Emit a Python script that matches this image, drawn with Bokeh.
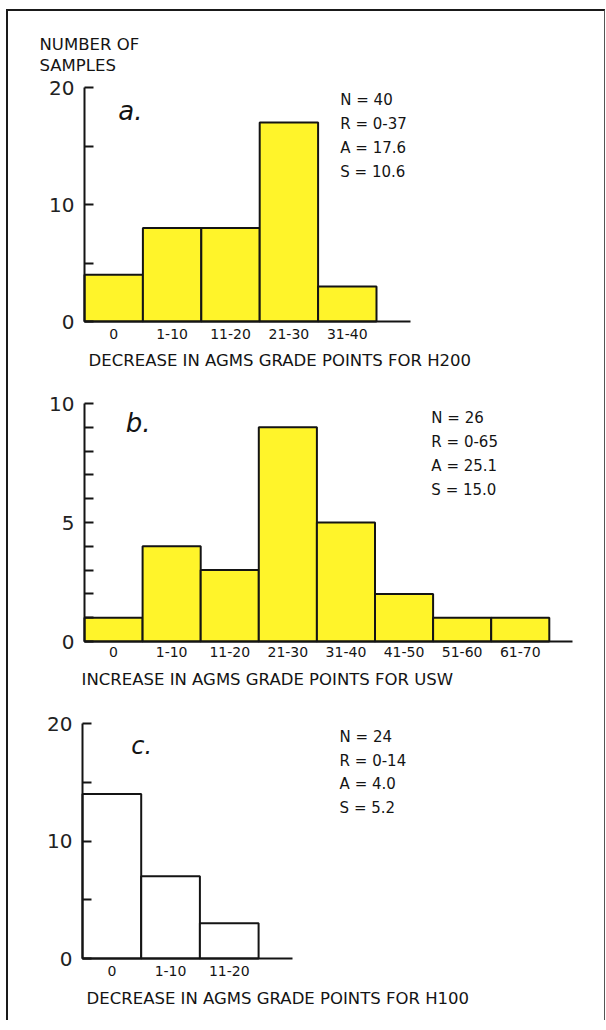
from bokeh.plotting import figure
from bokeh.models import Range1d, FixedTicker, Label
from bokeh.layouts import column
from bokeh.embed import file_html
from bokeh.resources import INLINE

# ---------------- data ----------------
cats_a = ["0", "1-10", "11-20", "21-30", "31-40"]
counts_a = [4, 8, 8, 17, 3]
stats_a = ["N = 40", "R = 0-37", "A = 17.6", "S = 10.6"]
title_a = "DECREASE IN AGMS GRADE POINTS FOR H200"

cats_b = ["0", "1-10", "11-20", "21-30", "31-40", "41-50", "51-60", "61-70"]
counts_b = [1, 4, 3, 9, 5, 2, 1, 1]
stats_b = ["N = 26", "R = 0-65", "A = 25.1", "S = 15.0"]
title_b = "INCREASE IN AGMS GRADE POINTS FOR USW"

cats_c = ["0", "1-10", "11-20"]
counts_c = [14, 7, 3]
stats_c = ["N = 24", "R = 0-14", "A = 4.0", "S = 5.2"]
title_c = "DECREASE IN AGMS GRADE POINTS FOR H100"

y_title = ["NUMBER OF", "SAMPLES"]

FONT = "DejaVu Sans"
INK = "#141414"
YELLOW = "#FFF42A"

W = 596          # canvas width of every panel
LEFT = 8         # page x of the canvases
TOP = 11         # page y of the first canvas


def panel(cats, counts, fill, canvas_top, height, axis_x, unit_x, axis_y,
          unit_y, xlen, ymax, yticks, yminor, x_standoff):
    # ranges chosen so that data (0,0) sits at page pixel (axis_x, axis_y)
    x0 = -(axis_x - LEFT) / unit_x
    x1 = x0 + W / unit_x
    y0 = -(canvas_top + height - axis_y) / unit_y
    y1 = (axis_y - canvas_top) / unit_y
    p = figure(width=W, height=height, output_backend="svg",
               toolbar_location=None, x_range=Range1d(x0, x1),
               y_range=Range1d(y0, y1), min_border=0)
    p.outline_line_color = None
    p.grid.visible = False
    p.background_fill_color = "white"
    p.border_fill_color = "white"
    lefts = list(range(len(cats)))
    rights = [i + 1 for i in lefts]
    p.quad(left=lefts, right=rights, bottom=0, top=counts,
           fill_color=fill, line_color=INK, line_width=2)
    # x axis
    xa = p.xaxis[0]
    xa.fixed_location = 0
    xa.bounds = (0, xlen)
    xa.ticker = FixedTicker(ticks=[i + 0.5 for i in lefts])
    xa.major_label_overrides = {i + 0.5: c for i, c in zip(lefts, cats)}
    xa.axis_line_width = 2
    xa.axis_line_color = INK
    xa.major_tick_line_color = None
    xa.minor_tick_line_color = None
    xa.major_tick_out = 0
    xa.major_tick_in = 0
    xa.major_label_standoff = x_standoff
    xa.major_label_text_font = FONT
    xa.major_label_text_font_size = "14px"
    xa.major_label_text_color = INK
    # y axis
    ya = p.yaxis[0]
    ya.fixed_location = 0
    ya.bounds = (0, ymax)
    ya.ticker = FixedTicker(ticks=yticks, minor_ticks=yminor)
    ya.axis_line_width = 2
    ya.axis_line_color = INK
    ya.major_tick_in = 9
    ya.major_tick_out = 0
    ya.minor_tick_in = 9
    ya.minor_tick_out = 0
    ya.major_tick_line_width = 2
    ya.minor_tick_line_width = 2
    ya.major_tick_line_color = INK
    ya.minor_tick_line_color = INK
    ya.major_label_standoff = 10
    ya.major_label_text_font = FONT
    ya.major_label_text_font_size = "20px"
    ya.major_label_text_color = "#222222"
    return p


def add_text(p, x, y, text, size, style="normal"):
    p.add_layout(Label(x=x, y=y, text=text, text_font=FONT,
                       text_font_size=size, text_font_style=style,
                       text_color=INK, text_align="left",
                       text_baseline="middle"))


# ---------------- panel a ----------------
pa = panel(cats_a, counts_a, YELLOW, TOP, 364, 84, 58.4, 321, 11.7,
           5.58, 20, [0, 10, 20], [5, 15], 7)
add_text(pa, -0.77, 23.68, y_title[0], "16.5px")
add_text(pa, -0.77, 21.88, y_title[1], "16.5px")
add_text(pa, 0.58, 17.95, "a.", "26px", "italic")
for k, s in enumerate(stats_a):
    add_text(pa, 4.38, 18.89 - 2.05 * k, s, "15px")
add_text(pa, 0.07, -3.33, title_a, "16.5px")

# ---------------- panel b ----------------
pb = panel(cats_b, counts_b, YELLOW, 375, 317, 84, 58.1, 641, 23.8,
           8.40, 10, [0, 5, 10], [1, 2, 3, 4, 6, 7, 8, 9], 5)
add_text(pb, 0.71, 9.2, "b.", "26px", "italic")
for k, s in enumerate(stats_b):
    add_text(pb, 5.97, 9.41 - 1.01 * k, s, "15px")
add_text(pb, -0.05, -1.6, title_b, "16.5px")

# ---------------- panel c ----------------
pc = panel(cats_c, counts_c, "white", 692, 328, 82, 58.7, 958, 11.75,
           3.58, 20, [0, 10, 20], [5, 15], 7)
add_text(pc, 0.83, 18.1, "c.", "24px", "italic")
for k, s in enumerate(stats_c):
    add_text(pc, 4.38, 18.81 - 1.99 * k, s, "15px")
add_text(pc, 0.07, -3.4, title_c, "16.5px")

layout = column(pa, pb, pc, spacing=0,
                styles={"margin-left": "6px", "margin-top": "9px",
                        "border-left": "2px solid #1a1a1a",
                        "border-top": "2px solid #1a1a1a",
                        "border-right": "1px solid #555555"})

open("out.html", "w").write(file_html(layout, INLINE))
